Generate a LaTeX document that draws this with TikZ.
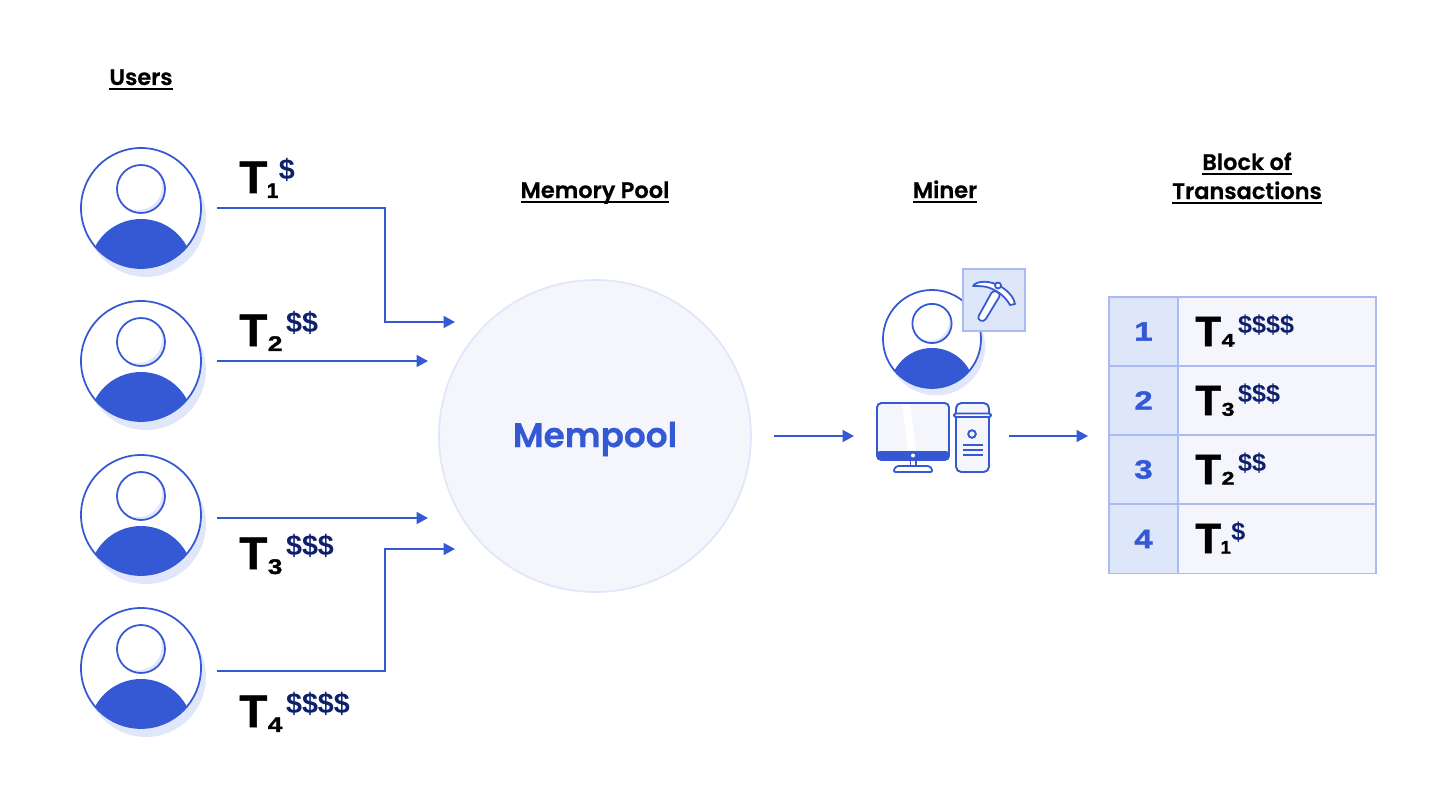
\documentclass[tikz,border=0pt]{standalone}
\usepackage{fontspec}
\setmainfont{Poppins}[BoldFont={Poppins SemiBold}, BoldFeatures={FakeBold=0.6}]
\newfontfamily\txfont{Liberation Sans Bold}[FakeBold=1.2]
\newfontfamily\subfont{Liberation Sans Bold}[FakeBold=1.5, FakeStretch=1.25]
\newfontfamily\feefont{Liberation Sans Bold}
\usepackage{xcolor}
\usetikzlibrary{arrows.meta}
\definecolor{blueline}{RGB}{53,88,212}
\definecolor{navy}{RGB}{14,31,107}
\definecolor{softblue}{RGB}{224,231,250}
\definecolor{pale}{RGB}{245,246,252}
\definecolor{cellblue}{RGB}{222,230,250}
\definecolor{cellline}{RGB}{169,187,242}

% underlined title
\newcommand{\ttl}[1]{\setbox0\hbox{#1}\copy0\llap{\rule[-3.1pt]{\wd0}{1.2pt}}}
% one transaction label: T size, index size, index drop, index, fee size, fees
\newcommand{\txn}[6]{{\txfont\fontsize{#1}{#1}\selectfont T\kern0.3pt\raisebox{#3}{\subfont\fontsize{#2}{#2}\selectfont #4}\kern2.1pt\raisebox{0.3em}{\color{navy}\feefont\fontsize{#5}{#5}\selectfont #6}}}
\newcommand{\one}{\txfont\kern-0.6pt 1\kern-1.8pt}

\tikzset{
    x=0.02cm, y=-0.02cm,
    title/.style={font=\bfseries\fontsize{12.8}{16}\selectfont, anchor=base, inner sep=0pt},
    txlabel/.style={anchor=base west, inner sep=0pt, text=black},
    flow/.style={draw=blueline, line width=1pt, -{Triangle[length=6.5pt, width=6.8pt]}},
    numcell/.style={draw=cellline, fill=cellblue, line width=0.8pt, minimum width=1.38cm, minimum height=1.38cm, inner sep=0pt, text=blueline, font=\subfont\fontsize{15}{15}\selectfont},
    valcell/.style={draw=cellline, fill=pale, line width=0.8pt, minimum width=3.96cm, minimum height=1.38cm, inner sep=0pt},
    pics/persona/.style={code={
        \fill[softblue] (5,9) circle [radius=60];
        \fill[white] (0,0) circle [radius=60];
        % head with its crescent
        \fill[softblue] (0,-19) circle [radius=24];
        \fill[white] (-3,-22) circle [radius=24];
        \begin{scope}
            \clip (0,0) circle [radius=60];
            \fill[blueline] (0,63) circle [radius=52];
        \end{scope}
        \draw[blueline, line width=1pt] (0,-19) circle [radius=24];
        \draw[blueline, line width=1pt] (0,0) circle [radius=60];
    }},
}

\begin{document}
\begin{tikzpicture}
    \useasboundingbox (0,0) rectangle (1456,804);

    % users
    \pic at (141,208) {persona};
    \pic at (141,361) {persona};
    \pic at (141,515) {persona};
    \pic at (141,668) {persona};

    \node[title] (users) at (141,85) {\ttl{Users}};
    \node[title] (pooltitle) at (595,198) {\ttl{Memory Pool}};
    \node[title] (minertitle) at (945,198) {\ttl{Miner}};
    \node[title] (blocktitle) at (1247,170) {\ttl{Block of}};
    \node[title] (blocktitleb) at (1247,199) {\ttl{Transactions}};

    \node[txlabel] (t1) at (239,193) {\txn{26}{12}{-2.8pt}{\one}{16.3}{\$}};
    \node[txlabel] (t2) at (239,346) {\txn{26}{12}{-2.8pt}{2}{16.3}{\$\$}};
    \node[txlabel] (t3) at (239,569) {\txn{26}{12}{-2.8pt}{3}{16.3}{\$\$\$}};
    \node[txlabel] (t4) at (239,727) {\txn{26}{12}{-2.8pt}{4}{16.3}{\$\$\$\$}};

    % memory pool
    \node[circle, draw=softblue, fill=pale, line width=1pt, minimum size=6.24cm, inner sep=0pt, text=blueline, font=\bfseries\fontsize{19.5}{20}\selectfont] (mempool) at (595,436) {\rule{0pt}{17.8pt}Mempool};

    \coordinate (out1) at (217,208);
    \coordinate (out2) at (217,361);
    \coordinate (out3) at (217,518);
    \coordinate (out4) at (217,671);
    \coordinate (in1) at (455,322);
    \coordinate (in2) at (428,361);
    \coordinate (in3) at (428,518);
    \coordinate (in4) at (455,549);
    \draw[flow] (out1) -| (385,322) -- (in1);
    \draw[flow] (out2) -- (in2);
    \draw[flow] (out3) -- (in3);
    \draw[flow] (out4) -| (385,549) -- (in4);

    % miner
    \pic[scale=0.817] at (932,339) {persona};
    \node[draw=cellline, fill=cellblue, line width=1pt, minimum size=1.24cm, inner sep=0pt] (pickbox) at (994,300) {};
    \draw[blueline, line width=1pt, fill=white, rounded corners=2pt] (993,290) -- (1001,294) -- (984,322) -- (977,319) -- cycle;
    \draw[blueline, line width=1pt, fill=white, line join=round] (973,286) .. controls (976,281) and (990,279) .. (1003,288) .. controls (1010,293) and (1014,298) .. (1015,304) -- (1010,305) .. controls (1006,298) and (1000,292) .. (990,288) .. controls (985,286) and (979,286) .. cycle;
    \draw[blueline, line width=1pt, fill=white] (998,285.5) circle [radius=3];

    % computer
    \draw[blueline, line width=1.1pt, fill=pale, rounded corners=2.5pt] (877,403) rectangle (949,460);
    \fill[white] (902,404) -- (910,404) -- (916,450) -- (908,450) -- cycle;
    \fill[blueline, rounded corners=2pt] (876.5,451) rectangle (949.5,460);
    \fill[white] (913,455.5) circle [radius=2];
    \draw[blueline, line width=1pt] (910.5,460) -- (910.5,466) (916,460) -- (916,466);
    \draw[blueline, line width=1pt, fill=white, rounded corners=0.7pt] (894,472) -- (894,469) -- (897,466) -- (929,466) -- (932,469) -- (932,472) -- cycle;
    \draw[blueline, line width=1.1pt, fill=pale, rounded corners=3pt] (956,403) rectangle (989,472);
    \draw[blueline, line width=1.1pt, fill=white, rounded corners=0.8pt] (954,413.5) rectangle (991,417);
    \draw[blueline, line width=1.1pt] (972,434) circle [radius=3.8];
    \draw[blueline, line width=1pt] (963,445) -- (983,445) (963,450) -- (983,450) (963,455) -- (983,455);

    \coordinate (poolout) at (774,436);
    \coordinate (minerin) at (854,436);
    \coordinate (minerout) at (1009,436);
    \coordinate (blockin) at (1088,436);
    \draw[flow] (poolout) -- (minerin);
    \draw[flow] (minerout) -- (blockin);

    % block of transactions
    \node[numcell] (num1) at (1143.5,331.5) {1};
    \node[numcell] (num2) at (1143.5,400.5) {2};
    \node[numcell] (num3) at (1143.5,469.5) {3};
    \node[numcell] (num4) at (1143.5,539) {4};
    \node[valcell] (val1) at (1277,331.5) {};
    \node[valcell] (val2) at (1277,400.5) {};
    \node[valcell] (val3) at (1277,469.5) {};
    \node[valcell] (val4) at (1277,539) {};
    \node[txlabel] (row1) at (1195,346) {\txn{24}{10.5}{-0.4pt}{4}{14.3}{\$\$\$\$}};
    \node[txlabel] (row2) at (1195,415) {\txn{24}{10.5}{-0.4pt}{3}{14.3}{\$\$\$}};
    \node[txlabel] (row3) at (1195,484) {\txn{24}{10.5}{-0.4pt}{2}{14.3}{\$\$}};
    \node[txlabel] (row4) at (1195,553) {\txn{24}{10.5}{-0.4pt}{\one}{14.3}{\$}};
\end{tikzpicture}
\end{document}
